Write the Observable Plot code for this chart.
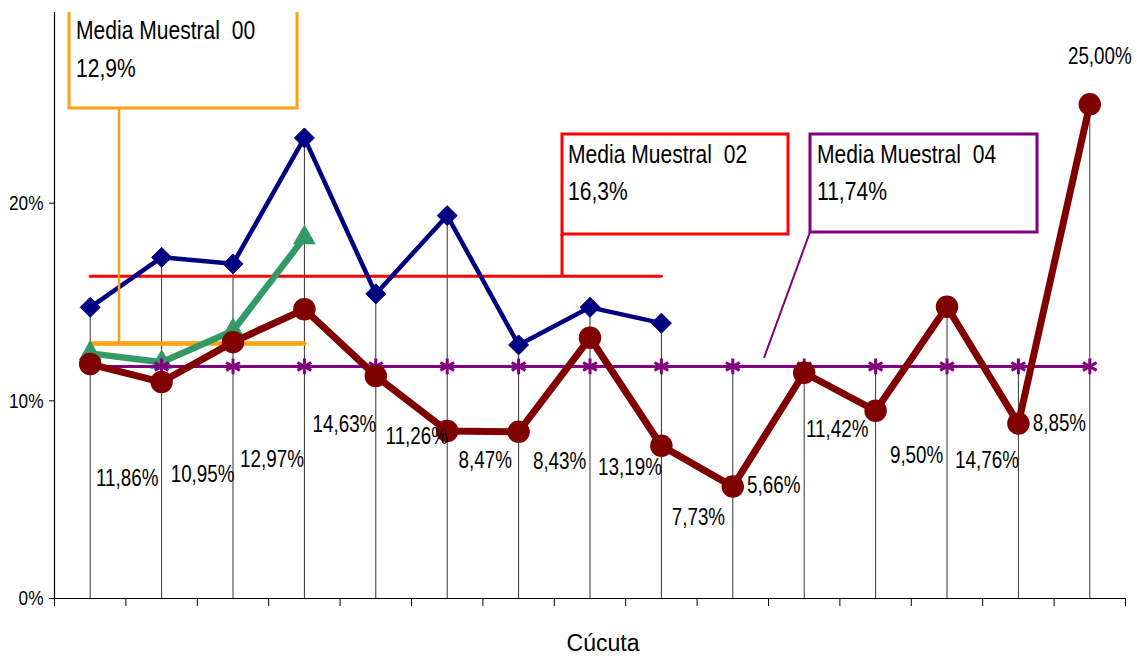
<!DOCTYPE html>
<html>
<head>
<meta charset="utf-8">
<script src="https://cdn.jsdelivr.net/npm/d3@7"></script>
<script src="https://cdn.jsdelivr.net/npm/@observablehq/plot@0.6"></script>
<style>
  html, body { margin: 0; padding: 0; background: #fff; overflow: hidden; }
  #chart svg { display: block; }
</style>
</head>
<body>
<div id="chart"></div>
<script>
// ---- data ----
const categories = [1, 2, 3, 4, 5, 6, 7, 8, 9, 10, 11, 12, 13, 14, 15];
const serie00 = [12.4, 11.95, 13.55, 18.26];                                   // green, triangles
const serie02 = [14.73, 17.26, 16.93, 23.3, 15.41, 19.37, 12.83, 14.73, 13.93]; // navy, diamonds
const serie04 = [11.86, 10.95, 12.97, 14.63, 11.26, 8.47, 8.43, 13.19, 7.73, 5.66, 11.42, 9.50, 14.76, 8.85, 25.00]; // maroon, circles
const media00 = 12.9;
const media02 = 16.3;
const media04 = 11.74;
const labels04 = ["11,86%", "10,95%", "12,97%", "14,63%", "11,26%", "8,47%", "8,43%", "13,19%", "7,73%", "5,66%", "11,42%", "9,50%", "14,76%", "8,85%", "25,00%"];
const yTicks = [0, 10, 20, 30];
const annotationTitles = ["Media Muestral  00", "Media Muestral  02", "Media Muestral  04"];
const annotationValues = ["12,9%", "16,3%", "11,74%"];
const xTitle = "Cúcuta";

// ---- layout (pixel offsets of the data labels relative to their points) ----
const labelShift = [[37,122],[41,100],[39,125],[40,123],[41,68],[38,37],[41,37],[40,137],[37,79],[41,6],[33,64],[41,52],[40,161],[41,7],[42,-40]];
const labelAnchor = i => (i === labels04.length - 1 ? "end" : "middle");

const FONT = "'Liberation Sans',Arial,sans-serif";

const rows = (vals) => vals.map((v, i) => ({x: categories[i], y: v}));
const d00 = rows(serie00), d02 = rows(serie02), d04 = rows(serie04);
const m00 = serie00.map((_, i) => ({x: categories[i], y: media00}));
const m02 = serie02.map((_, i) => ({x: categories[i], y: media02}));
const m04 = serie04.map((_, i) => ({x: categories[i], y: media04}));
const drops = categories.map((c, i) => ({
  x: c,
  y: d3.max([serie00[i], serie02[i], serie04[i], media04].filter(v => v != null))
}));
const boundaries = d3.range(categories.length + 1).map(i => categories[0] - 0.5 + i);

const labelMarks = d04.map((d, i) => Plot.text([d], {
  x: "x", y: "y", text: () => labels04[i],
  dx: labelShift[i][0], dy: labelShift[i][1],
  lineAnchor: "bottom", textAnchor: labelAnchor(i),
  fontSize: 24, fontFamily: FONT, fill: "#000"
}));

const plot = Plot.plot({
  width: 1137,
  height: 656,
  marginTop: 5,
  marginBottom: 58,
  marginLeft: 54,
  marginRight: 12,
  style: {fontFamily: FONT, fontSize: "21px", color: "#000", background: "#fff"},
  x: {domain: [boundaries[0], boundaries[boundaries.length - 1]], ticks: boundaries, tickFormat: () => "", tickSize: 8, label: null},
  y: {domain: [0, 30], ticks: yTicks, tickFormat: d => d + "%", tickSize: 5, tickPadding: 6, label: null},
  marks: [
    Plot.ruleX(drops, {x: "x", y1: 0, y2: "y", stroke: "#333", strokeWidth: 1}),
    Plot.ruleY([0], {stroke: "#000", strokeWidth: 1.2}),
    Plot.ruleX([boundaries[0]], {stroke: "#000", strokeWidth: 1.2}),
    Plot.line(m02, {x: "x", y: "y", stroke: "#ff0000", strokeWidth: 3}),
    Plot.line(m00, {x: "x", y: "y", stroke: "#ffa010", strokeWidth: 4.5}),
    Plot.line(d02, {x: "x", y: "y", stroke: "#000080", strokeWidth: 4.5}),
    Plot.dot(d02, {x: "x", y: "y", symbol: "diamond2", r: 9, fill: "#000080", stroke: "#000080", strokeWidth: 1}),
    Plot.line(d00, {x: "x", y: "y", stroke: "#339966", strokeWidth: 6.5}),
    Plot.dot(d00, {x: "x", y: "y", symbol: "triangle", r: 7.5, fill: "#339966", stroke: "#339966"}),
    Plot.line(m04, {x: "x", y: "y", stroke: "#800080", strokeWidth: 3}),
    Plot.dot(m04, {x: "x", y: "y", symbol: "asterisk", r: 7.5, stroke: "#800080", strokeWidth: 3}),
    Plot.line(d04, {x: "x", y: "y", stroke: "#800000", strokeWidth: 7}),
    Plot.dot(d04, {x: "x", y: "y", r: 10.5, fill: "#800000", stroke: "#800000"}),
    ...labelMarks
  ]
});

document.getElementById("chart").appendChild(plot);

// ---- annotation boxes (call-outs) ----
const sy = plot.scale("y");
const svg = d3.select(plot);
const callouts = [
  {box: [69, -10, 297, 108], color: "#ffa010", text: [76, 39, 77], leader: [[119, 108], [119, sy.apply(media00)]], lw: 2.5},
  {box: [562, 134, 788, 234], color: "#ff0000", text: [568, 163, 200], leader: [[562, 234], [562, sy.apply(media02)]], lw: 3},
  {box: [810, 134, 1037, 232], color: "#800080", text: [817, 163, 200], leader: [[810, 232], [764, sy.apply(media04) - 8]], lw: 2}
];
const g = svg.append("g");
callouts.forEach((c, i) => {
  g.append("line")
    .attr("x1", c.leader[0][0]).attr("y1", c.leader[0][1])
    .attr("x2", c.leader[1][0]).attr("y2", c.leader[1][1])
    .attr("stroke", c.color).attr("stroke-width", c.lw);
  g.append("rect")
    .attr("x", c.box[0]).attr("y", c.box[1])
    .attr("width", c.box[2] - c.box[0]).attr("height", c.box[3] - c.box[1])
    .attr("fill", "#fff").attr("stroke", c.color).attr("stroke-width", 3);
  g.append("text").attr("class", "box").attr("x", c.text[0]).attr("y", c.text[1])
    .attr("text-anchor", "start")
    .attr("font-family", FONT).attr("font-size", 26).attr("fill", "#000")
    .style("white-space", "pre").text(annotationTitles[i]);
  g.append("text").attr("class", "box").attr("x", c.text[0]).attr("y", c.text[2])
    .attr("text-anchor", "start")
    .attr("font-family", FONT).attr("font-size", 26).attr("fill", "#000")
    .text(annotationValues[i]);
});

// condensed look of the original (Arial Narrow-like)
svg.selectAll("text").each(function() {
  const fs = parseFloat(getComputedStyle(this).fontSize);
  const f = this.getAttribute("class") === "box" ? 0.81 : (fs >= 24 ? 0.785 : 0.82);
  const L = this.getComputedTextLength();
  if (L > 0) {
    this.setAttribute("textLength", (L * f).toFixed(1));
    this.setAttribute("lengthAdjust", "spacingAndGlyphs");
  }
});

svg.append("text").attr("x", 603).attr("y", 651)
  .attr("text-anchor", "middle").attr("font-family", FONT).attr("font-size", 23)
  .attr("fill", "#000").text(xTitle);
// top strip of the reference is blank
svg.append("rect").attr("x", 0).attr("y", 0).attr("width", 1137).attr("height", 12).attr("fill", "#fff");
</script>
</body>
</html>
